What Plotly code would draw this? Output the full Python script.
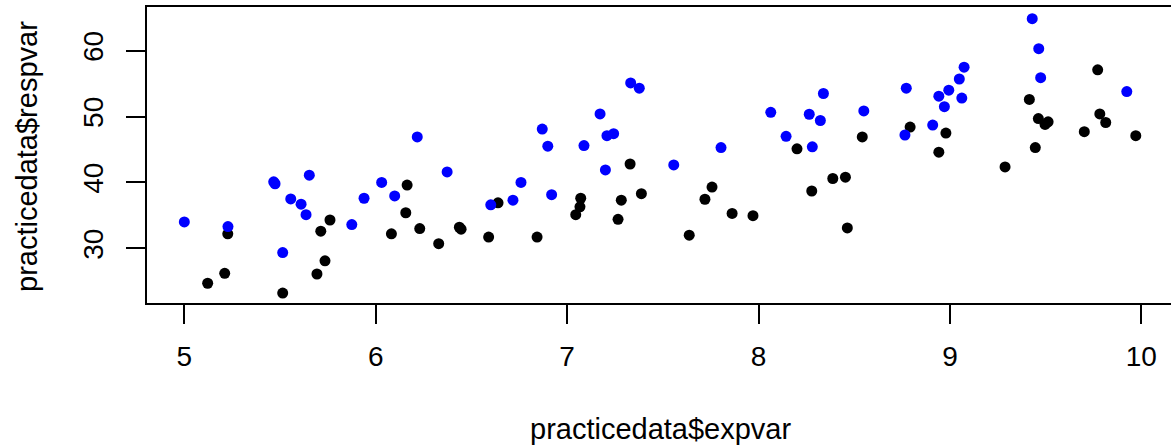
import plotly.graph_objects as go

# Black group (expvar, respvar)
black_x = [5.122, 5.211, 5.227, 5.514, 5.693, 5.735, 5.713, 5.761, 6.082,
           6.164, 6.157, 6.230, 6.329, 6.437, 6.446, 6.590, 6.639, 6.843,
           7.071, 7.067, 7.045, 7.266, 7.283, 7.329, 7.388,
           7.638, 7.720, 7.757, 7.862, 7.971, 8.201, 8.278, 8.388, 8.454,
           8.464, 8.542,
           8.792, 8.979, 8.942, 9.288, 9.415, 9.462, 9.513, 9.497, 9.446,
           9.702, 9.772, 9.783, 9.814, 9.971]
black_y = [24.7, 26.2, 32.2, 23.2, 26.1, 28.1, 32.6, 34.3, 32.2,
           39.6, 35.4, 33.0, 30.7, 33.2, 32.9, 31.7, 36.9, 31.7,
           37.6, 36.3, 35.1, 34.4, 37.3, 42.8, 38.3,
           32.0, 37.45, 39.3, 35.3, 34.95, 45.1, 38.7, 40.6, 40.8,
           33.1, 46.9,
           48.4, 47.5, 44.6, 42.35, 52.6, 49.7, 49.2, 48.8, 45.3,
           47.7, 57.1, 50.4, 49.1, 47.1]

# Blue group (expvar, respvar)
blue_x = [5.000, 5.228, 5.467, 5.474, 5.653, 5.556, 5.610, 5.636, 5.514,
          5.875, 5.939, 6.031, 6.099,
          6.217, 6.373, 6.601, 6.717, 6.759, 6.870, 6.899, 6.919, 7.088,
          7.172, 7.200, 7.208, 7.243, 7.332, 7.377,
          7.557, 7.804, 8.064, 8.144, 8.265, 8.339, 8.323, 8.281, 8.550,
          8.772, 8.765, 8.910, 8.942, 8.971, 8.994, 9.049, 9.062, 9.074,
          9.430, 9.464, 9.474, 9.924]
blue_y = [34.0, 33.3, 40.1, 39.8, 41.1, 37.5, 36.7, 35.1, 29.35,
          33.6, 37.6, 40.0, 37.95,
          46.9, 41.6, 36.6, 37.3, 40.0, 48.1, 45.5, 38.15, 45.6,
          50.4, 41.9, 47.1, 47.4, 55.1, 54.3,
          42.65, 45.3, 50.65, 47.0, 50.35, 53.5, 49.4, 45.4, 50.85,
          54.3, 47.2, 48.7, 53.1, 51.5, 54.0, 55.7, 52.8, 57.5,
          64.85, 60.3, 55.9, 53.8]

x_ticks = [5, 6, 7, 8, 9, 10]
y_ticks = [30, 40, 50, 60]

FONT = "Liberation Sans, Arial, Helvetica, sans-serif"

fig = go.Figure()
fig.add_trace(go.Scatter(x=black_x, y=black_y, mode="markers",
                         marker=dict(color="#000000", size=11),
                         showlegend=False, hoverinfo="x+y"))
fig.add_trace(go.Scatter(x=blue_x, y=blue_y, mode="markers",
                         marker=dict(color="#0000FF", size=11),
                         showlegend=False, hoverinfo="x+y"))

fig.update_layout(
    width=1171, height=447,
    margin=dict(l=147, r=0, t=7, b=144, pad=0),
    plot_bgcolor="white", paper_bgcolor="white",
    font=dict(family=FONT, size=28, color="black"),
    xaxis=dict(range=[4.805, 10.155], tickvals=x_ticks,
               ticktext=[str(v) for v in x_ticks],
               showgrid=False, zeroline=False,
               showline=True, linecolor="black", linewidth=2, mirror=True,
               ticks="outside", ticklen=19, tickwidth=1.5, tickcolor="black",
               ticklabelstandoff=8,
               tickfont=dict(family=FONT, size=28, color="black")),
    yaxis=dict(range=[21.70, 66.63], tickvals=y_ticks,
               ticktext=[str(v) for v in y_ticks],
               showgrid=False, zeroline=False,
               showline=True, linecolor="black", linewidth=2, mirror=False,
               ticks="outside", ticklen=19, tickwidth=1.5, tickcolor="black",
               tickangle=-90, ticklabelstandoff=12,
               tickfont=dict(family=FONT, size=28, color="black")),
    annotations=[
        dict(text="practicedata$expvar", xref="paper", yref="paper",
             x=(660 - 147) / 1024, y=(303 - 429) / 296,
             xanchor="center", yanchor="middle", showarrow=False,
             font=dict(family=FONT, size=29, color="black")),
        dict(text="practicedata$respvar", xref="paper", yref="paper",
             x=(27 - 147) / 1024, y=(303 - 157) / 296, textangle=-90,
             xanchor="center", yanchor="middle", showarrow=False,
             font=dict(family=FONT, size=29, color="black")),
    ],
)

fig.write_html(
    "out.html",
    config={"displayModeBar": False},
    post_script="document.body.style.margin='0';document.body.style.overflow='hidden';",
)
